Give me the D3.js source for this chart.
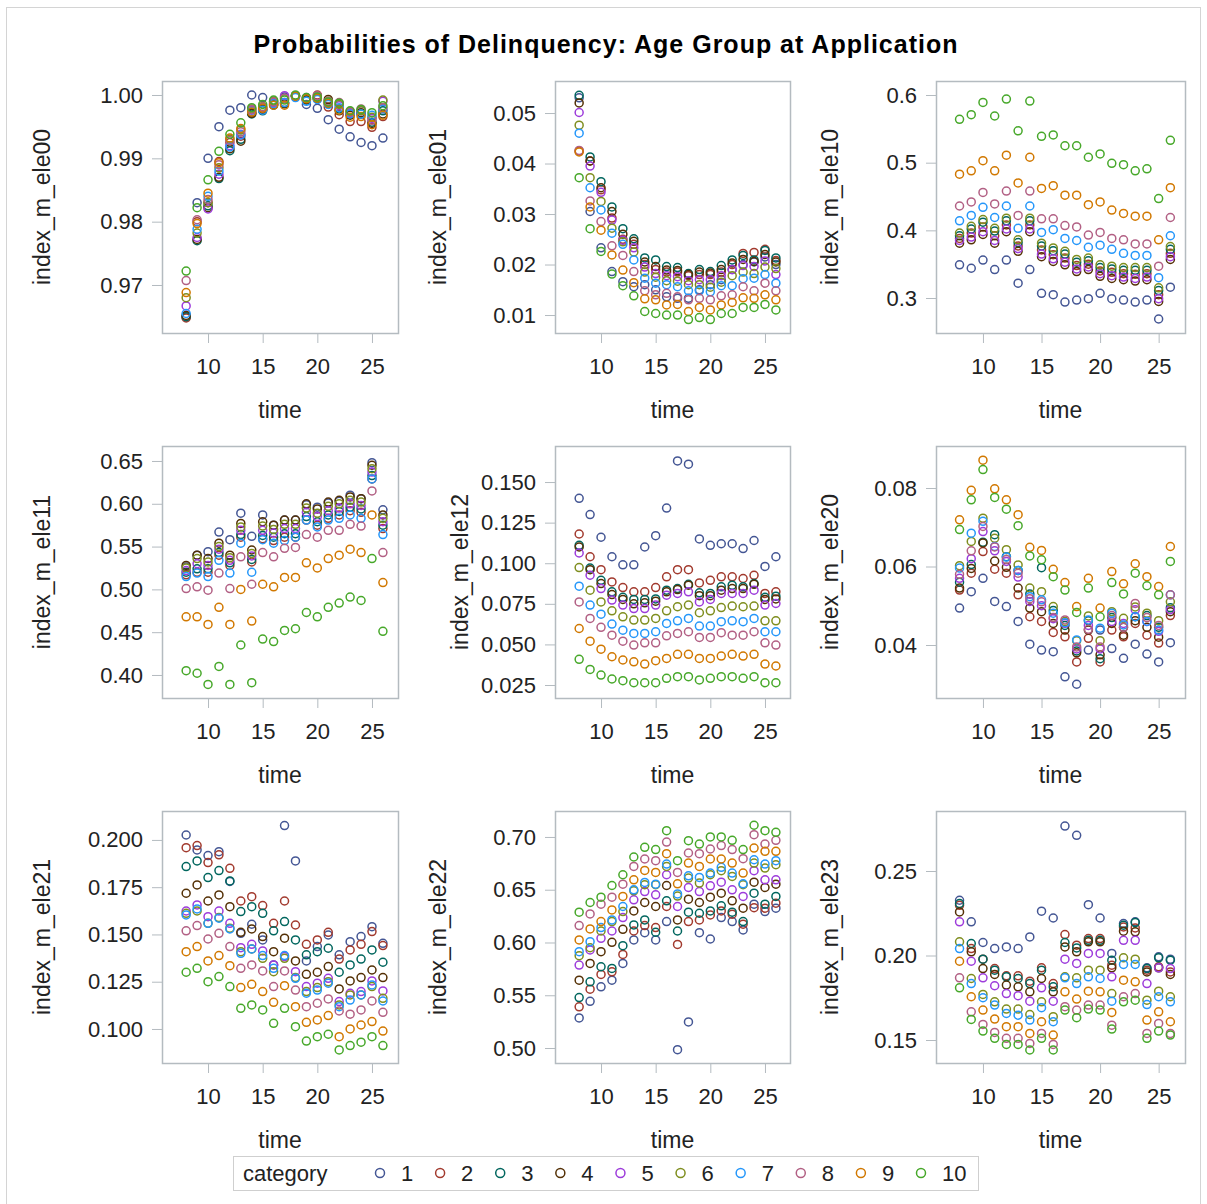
<!DOCTYPE html>
<html>
<head>
<meta charset="utf-8">
<script src="https://cdn.jsdelivr.net/npm/d3@7"></script>
<style>
  body { margin: 0; background: #fff; }
  text { font-family: "Liberation Sans", Arial, sans-serif; fill: #222; }
</style>
</head>
<body>
<svg id="chart" width="1207" height="1204"></svg>
<script>
// time points and categories
var times = [8, 9, 10, 11, 12, 13, 14, 15, 16, 17, 18, 19, 20, 21, 22, 23, 24, 25, 26];
var categories = ["1", "2", "3", "4", "5", "6", "7", "8", "9", "10"];
var colors = ["#445694", "#A23A2E", "#01665E", "#543005", "#9D3CDB",
              "#7F8E1F", "#2597FA", "#B26084", "#D17800", "#47A82A"];

// one row per category, one value per time point
var ele00 = [
  [0.9650,0.9830,0.9900,0.9950,0.9976,0.9980,1.0000,0.9996,0.9990,0.9997,0.9998,0.9985,0.9979,0.9961,0.9946,0.9934,0.9925,0.9920,0.9932],
  [0.9648,0.9800,0.9830,0.9895,0.9925,0.9935,0.9972,0.9978,0.9986,0.9988,0.9999,0.9993,1.0000,0.9981,0.9969,0.9958,0.9958,0.9949,0.9966],
  [0.9650,0.9770,0.9825,0.9868,0.9912,0.9930,0.9970,0.9975,0.9984,0.9986,0.9998,0.9992,0.9994,0.9986,0.9978,0.9970,0.9970,0.9957,0.9975],
  [0.9652,0.9772,0.9822,0.9870,0.9915,0.9927,0.9971,0.9977,0.9985,0.9987,0.9999,0.9993,0.9995,0.9993,0.9975,0.9968,0.9972,0.9955,0.9970],
  [0.9667,0.9775,0.9820,0.9875,0.9920,0.9938,0.9976,0.9980,0.9988,0.9999,0.9999,0.9996,0.9997,0.9988,0.9983,0.9972,0.9975,0.9963,0.9990],
  [0.9680,0.9782,0.9830,0.9885,0.9930,0.9945,0.9978,0.9982,0.9990,0.9994,0.9999,0.9995,0.9996,0.9990,0.9985,0.9974,0.9975,0.9965,0.9992],
  [0.9655,0.9788,0.9840,0.9880,0.9918,0.9937,0.9974,0.9976,0.9986,0.9988,0.9996,0.9990,0.9993,0.9985,0.9980,0.9970,0.9970,0.9968,0.9978],
  [0.9707,0.9803,0.9835,0.9890,0.9928,0.9942,0.9977,0.9981,0.9989,0.9995,0.9999,0.9995,0.9999,0.9990,0.9988,0.9973,0.9978,0.9960,0.9980],
  [0.9688,0.9797,0.9845,0.9893,0.9932,0.9947,0.9973,0.9979,0.9984,0.9984,0.9998,0.9994,0.9995,0.9987,0.9976,0.9965,0.9966,0.9953,0.9968],
  [0.9722,0.9822,0.9866,0.9911,0.9938,0.9956,0.9980,0.9985,0.9992,0.9992,1.0000,0.9996,0.9997,0.9989,0.9987,0.9975,0.9977,0.9972,0.9983]
];
var ele01 = [
  [0.0530,0.0305,0.0233,0.0186,0.0166,0.0156,0.0160,0.0150,0.0136,0.0133,0.0133,0.0150,0.0160,0.0170,0.0190,0.0200,0.0205,0.0215,0.0200],
  [0.0425,0.0405,0.0348,0.0292,0.0250,0.0240,0.0200,0.0190,0.0185,0.0185,0.0178,0.0180,0.0180,0.0185,0.0200,0.0222,0.0224,0.0230,0.0208],
  [0.0535,0.0413,0.0364,0.0314,0.0271,0.0251,0.0213,0.0209,0.0196,0.0194,0.0182,0.0190,0.0186,0.0198,0.0209,0.0218,0.0209,0.0228,0.0213],
  [0.0520,0.0405,0.0352,0.0305,0.0260,0.0246,0.0205,0.0196,0.0189,0.0188,0.0180,0.0185,0.0183,0.0190,0.0203,0.0210,0.0206,0.0220,0.0205],
  [0.0501,0.0395,0.0343,0.0288,0.0248,0.0233,0.0195,0.0182,0.0178,0.0176,0.0168,0.0170,0.0170,0.0178,0.0190,0.0198,0.0196,0.0207,0.0180],
  [0.0476,0.0372,0.0325,0.0272,0.0245,0.0225,0.0185,0.0175,0.0168,0.0167,0.0160,0.0160,0.0155,0.0165,0.0178,0.0185,0.0182,0.0195,0.0192],
  [0.0460,0.0352,0.0308,0.0262,0.0240,0.0209,0.0173,0.0163,0.0160,0.0156,0.0148,0.0148,0.0146,0.0158,0.0158,0.0172,0.0173,0.0180,0.0163],
  [0.0426,0.0326,0.0285,0.0237,0.0218,0.0186,0.0148,0.0140,0.0143,0.0136,0.0130,0.0133,0.0130,0.0138,0.0140,0.0156,0.0148,0.0163,0.0148],
  [0.0423,0.0314,0.0268,0.0219,0.0189,0.0164,0.0132,0.0130,0.0120,0.0121,0.0107,0.0115,0.0110,0.0120,0.0125,0.0134,0.0133,0.0140,0.0130],
  [0.0372,0.0271,0.0226,0.0181,0.0158,0.0138,0.0107,0.0103,0.0100,0.0100,0.0091,0.0095,0.0091,0.0103,0.0103,0.0115,0.0115,0.0121,0.0110]
];
var ele10 = [
  [0.349,0.344,0.356,0.342,0.356,0.322,0.342,0.307,0.305,0.294,0.297,0.299,0.307,0.299,0.297,0.294,0.297,0.269,0.316],
  [0.388,0.396,0.405,0.392,0.408,0.377,0.408,0.371,0.364,0.359,0.348,0.350,0.340,0.338,0.336,0.335,0.336,0.305,0.366],
  [0.392,0.402,0.412,0.399,0.414,0.382,0.414,0.377,0.370,0.365,0.353,0.355,0.345,0.343,0.341,0.341,0.341,0.311,0.372],
  [0.381,0.386,0.394,0.381,0.398,0.369,0.398,0.361,0.354,0.349,0.339,0.342,0.332,0.329,0.327,0.325,0.327,0.295,0.357],
  [0.385,0.390,0.398,0.385,0.402,0.373,0.402,0.365,0.358,0.353,0.343,0.346,0.336,0.333,0.331,0.329,0.331,0.299,0.361],
  [0.396,0.406,0.416,0.403,0.418,0.386,0.418,0.381,0.374,0.369,0.357,0.359,0.349,0.347,0.345,0.345,0.345,0.315,0.376],
  [0.414,0.422,0.434,0.419,0.436,0.403,0.436,0.397,0.401,0.388,0.385,0.375,0.378,0.372,0.366,0.363,0.363,0.330,0.392],
  [0.436,0.442,0.456,0.439,0.458,0.422,0.458,0.417,0.417,0.407,0.405,0.393,0.397,0.388,0.386,0.380,0.380,0.347,0.419],
  [0.483,0.488,0.503,0.488,0.511,0.470,0.508,0.462,0.466,0.452,0.452,0.438,0.442,0.430,0.425,0.421,0.421,0.386,0.463],
  [0.564,0.571,0.589,0.569,0.594,0.547,0.591,0.539,0.541,0.525,0.525,0.508,0.513,0.499,0.497,0.488,0.491,0.447,0.533]
];
var ele11 = [
  [0.526,0.540,0.544,0.567,0.558,0.589,0.562,0.587,0.575,0.581,0.581,0.599,0.596,0.601,0.603,0.610,0.606,0.648,0.593],
  [0.517,0.520,0.520,0.540,0.528,0.561,0.532,0.559,0.557,0.561,0.561,0.581,0.575,0.583,0.587,0.592,0.590,0.629,0.571],
  [0.520,0.524,0.524,0.543,0.531,0.564,0.535,0.563,0.561,0.565,0.565,0.585,0.579,0.587,0.591,0.596,0.594,0.633,0.575],
  [0.528,0.540,0.536,0.554,0.540,0.577,0.546,0.579,0.575,0.581,0.581,0.600,0.594,0.602,0.604,0.608,0.606,0.645,0.587],
  [0.522,0.530,0.528,0.547,0.534,0.569,0.539,0.569,0.566,0.571,0.571,0.590,0.585,0.592,0.595,0.600,0.598,0.637,0.579],
  [0.525,0.536,0.532,0.550,0.537,0.573,0.542,0.574,0.570,0.576,0.576,0.595,0.589,0.597,0.600,0.604,0.602,0.641,0.583],
  [0.515,0.519,0.515,0.534,0.519,0.554,0.520,0.558,0.554,0.557,0.561,0.581,0.573,0.581,0.583,0.587,0.583,0.629,0.564],
  [0.501,0.503,0.499,0.519,0.501,0.538,0.506,0.543,0.538,0.548,0.549,0.564,0.561,0.569,0.569,0.576,0.574,0.615,0.543],
  [0.468,0.468,0.459,0.479,0.459,0.500,0.463,0.506,0.503,0.514,0.514,0.531,0.525,0.536,0.540,0.547,0.543,0.587,0.508],
  [0.405,0.402,0.389,0.410,0.389,0.435,0.391,0.442,0.439,0.452,0.454,0.473,0.468,0.479,0.484,0.491,0.487,0.536,0.451]
];
var ele12 = [
  [0.140,0.130,0.116,0.104,0.099,0.099,0.110,0.117,0.134,0.163,0.161,0.115,0.111,0.112,0.112,0.109,0.114,0.098,0.104],
  [0.118,0.104,0.096,0.0885,0.085,0.0824,0.0824,0.085,0.0916,0.096,0.096,0.0879,0.0895,0.0916,0.0916,0.0906,0.0926,0.0814,0.0824],
  [0.111,0.097,0.0895,0.0824,0.079,0.0777,0.0777,0.078,0.0834,0.0844,0.087,0.0818,0.0814,0.0855,0.0865,0.0855,0.0875,0.079,0.0797],
  [0.110,0.096,0.0875,0.0807,0.0777,0.075,0.0756,0.0766,0.0824,0.0838,0.0865,0.080,0.080,0.0834,0.0844,0.0844,0.087,0.0777,0.078],
  [0.1063,0.0926,0.0844,0.0773,0.0742,0.0721,0.0721,0.0742,0.0803,0.0814,0.0824,0.0762,0.0777,0.0814,0.0814,0.0814,0.0834,0.0742,0.0752],
  [0.0973,0.0834,0.0762,0.0707,0.067,0.065,0.065,0.066,0.0707,0.0732,0.0742,0.0695,0.0707,0.0727,0.0736,0.0732,0.0736,0.0645,0.0645],
  [0.0859,0.0742,0.0686,0.0625,0.0588,0.0568,0.0568,0.0578,0.0629,0.0645,0.066,0.0613,0.0613,0.064,0.0645,0.064,0.066,0.0578,0.0578],
  [0.0762,0.066,0.0605,0.0557,0.052,0.0496,0.051,0.051,0.0553,0.0568,0.0578,0.0543,0.0543,0.0572,0.0557,0.0557,0.0578,0.051,0.0496],
  [0.0598,0.052,0.0471,0.0424,0.0404,0.0393,0.0379,0.040,0.0414,0.0439,0.0439,0.0414,0.0414,0.0428,0.0439,0.0428,0.0439,0.0379,0.0367],
  [0.0408,0.0346,0.0311,0.0287,0.0277,0.0264,0.0264,0.0264,0.0291,0.0301,0.0301,0.0281,0.0291,0.0301,0.0301,0.0291,0.0301,0.0264,0.0264]
];
var ele20 = [
  [0.0494,0.0536,0.0570,0.0511,0.0498,0.0460,0.0402,0.0387,0.0383,0.0319,0.0300,0.0387,0.0438,0.0391,0.0366,0.0402,0.0377,0.0357,0.0406],
  [0.0540,0.0583,0.0638,0.0593,0.0583,0.0528,0.0472,0.0460,0.0432,0.0421,0.0357,0.0417,0.0357,0.0438,0.0421,0.0455,0.0425,0.0405,0.0475],
  [0.0560,0.0605,0.0662,0.0681,0.0625,0.0590,0.0530,0.0597,0.0488,0.0450,0.0385,0.0462,0.0365,0.0470,0.0445,0.0472,0.0475,0.0445,0.0495],
  [0.0545,0.0595,0.0660,0.0614,0.0598,0.0545,0.0494,0.0485,0.0455,0.0438,0.0380,0.0438,0.0375,0.0455,0.0425,0.0462,0.0445,0.0420,0.0485],
  [0.0570,0.0620,0.0689,0.0640,0.0613,0.0573,0.0511,0.0500,0.0467,0.0455,0.0390,0.0450,0.0390,0.0460,0.0455,0.0490,0.0460,0.0435,0.0490],
  [0.0602,0.0664,0.0723,0.0672,0.0643,0.0604,0.0545,0.0536,0.0498,0.0460,0.0411,0.0474,0.0411,0.0485,0.0468,0.0497,0.0481,0.0462,0.0510],
  [0.0596,0.0685,0.0715,0.0651,0.0624,0.0590,0.0523,0.0515,0.0481,0.0457,0.0413,0.0464,0.0443,0.0481,0.0451,0.0472,0.0460,0.0438,0.0528],
  [0.0580,0.0640,0.0702,0.0650,0.0618,0.0583,0.0518,0.0510,0.0470,0.0464,0.0395,0.0440,0.0395,0.0475,0.0445,0.0506,0.0470,0.0450,0.0528],
  [0.0719,0.0794,0.0871,0.0798,0.0770,0.0732,0.0649,0.0641,0.0593,0.0559,0.0498,0.0570,0.0494,0.0587,0.0556,0.0607,0.0574,0.0549,0.0651],
  [0.0694,0.0770,0.0847,0.0776,0.0746,0.0704,0.0627,0.0617,0.0574,0.0540,0.0483,0.0545,0.0472,0.0559,0.0530,0.0583,0.0551,0.0528,0.0613]
];
var ele21 = [
  [0.2026,0.1947,0.1917,0.1938,0.1780,0.1506,0.1554,0.1471,0.1339,0.2076,0.1889,0.1360,0.1436,0.1497,0.1392,0.1462,0.1489,0.1541,0.1453],
  [0.1959,0.1970,0.1880,0.1921,0.1850,0.1677,0.1700,0.1653,0.1559,0.1677,0.1550,0.1448,0.1471,0.1511,0.1370,0.1418,0.1448,0.1515,0.1441],
  [0.1859,0.1889,0.1801,0.1838,0.1783,0.1621,0.1647,0.1612,0.1519,0.1568,0.1471,0.1392,0.1409,0.1427,0.1300,0.1339,0.1370,0.1418,0.1353],
  [0.1718,0.1762,0.1677,0.1709,0.1647,0.1511,0.1529,0.1489,0.1409,0.1480,0.1360,0.1289,0.1300,0.1330,0.1212,0.1254,0.1272,0.1312,0.1272],
  [0.1624,0.1656,0.1594,0.1624,0.1559,0.1430,0.1448,0.1413,0.1339,0.1383,0.1303,0.1224,0.1242,0.1268,0.1145,0.1189,0.1198,0.1254,0.1201],
  [0.1612,0.1624,0.1559,0.1589,0.1533,0.1409,0.1423,0.1374,0.1303,0.1374,0.1272,0.1198,0.1219,0.1250,0.1127,0.1180,0.1180,0.1224,0.1162],
  [0.1603,0.1635,0.1559,0.1586,0.1529,0.1400,0.1423,0.1388,0.1321,0.1388,0.1268,0.1189,0.1206,0.1242,0.1118,0.1153,0.1180,0.1233,0.1148],
  [0.1519,0.1547,0.1476,0.1506,0.1436,0.1321,0.1339,0.1307,0.1224,0.1307,0.1206,0.1118,0.1136,0.1159,0.1095,0.1078,0.1101,0.1148,0.1088],
  [0.1409,0.1436,0.1360,0.1388,0.1335,0.1219,0.1236,0.1198,0.1141,0.1229,0.1118,0.1035,0.1048,0.1071,0.0959,0.1000,0.1021,0.1039,0.0989],
  [0.1300,0.1321,0.1250,0.1277,0.1224,0.1109,0.1127,0.1101,0.1030,0.1109,0.1012,0.0936,0.0959,0.0972,0.0889,0.0912,0.0930,0.0959,0.0912]
];
var ele22 = [
  [0.5285,0.5443,0.5580,0.5643,0.5802,0.6024,0.6093,0.6024,0.6198,0.4984,0.5247,0.6093,0.6033,0.6236,0.6198,0.6119,0.6363,0.6293,0.6325],
  [0.5390,0.5558,0.5697,0.5722,0.5887,0.6109,0.6160,0.6141,0.6341,0.5982,0.6198,0.6214,0.6261,0.6299,0.6268,0.6173,0.6330,0.6325,0.6373],
  [0.5478,0.5627,0.5770,0.5754,0.5970,0.6166,0.6214,0.6097,0.6395,0.6109,0.6287,0.6277,0.6299,0.6347,0.6287,0.6198,0.6467,0.6363,0.6436],
  [0.5643,0.5802,0.5913,0.6002,0.6125,0.6299,0.6379,0.6341,0.6540,0.6214,0.6410,0.6379,0.6429,0.6467,0.6395,0.6325,0.6572,0.6521,0.6553],
  [0.5786,0.5929,0.6039,0.6109,0.6236,0.6404,0.6483,0.6452,0.6642,0.6341,0.6521,0.6483,0.6537,0.6572,0.6499,0.6436,0.6680,0.6594,0.6594],
  [0.5875,0.5950,0.6109,0.6198,0.6293,0.6490,0.6547,0.6547,0.6721,0.6440,0.6610,0.6563,0.6642,0.6680,0.6626,0.6547,0.6753,0.6705,0.6737],
  [0.5913,0.6008,0.6141,0.6214,0.6341,0.6499,0.6569,0.6553,0.6743,0.6460,0.6632,0.6616,0.6658,0.6712,0.6658,0.6556,0.6784,0.6743,0.6775],
  [0.6160,0.6271,0.6363,0.6429,0.6553,0.6721,0.6791,0.6775,0.6952,0.6664,0.6848,0.6842,0.6886,0.6918,0.6880,0.6794,0.7022,0.6933,0.6968],
  [0.6024,0.6128,0.6198,0.6309,0.6436,0.6594,0.6683,0.6664,0.6842,0.6556,0.6753,0.6721,0.6791,0.6791,0.6753,0.6658,0.6895,0.6864,0.6864],
  [0.6287,0.6379,0.6429,0.6540,0.6642,0.6810,0.6902,0.6880,0.7060,0.6775,0.6965,0.6933,0.7000,0.7000,0.6968,0.6880,0.7111,0.7060,0.7044]
];
var ele23 = [
  [0.2327,0.2199,0.2077,0.2041,0.2051,0.2041,0.2110,0.2262,0.2222,0.2766,0.2711,0.2301,0.2222,0.2012,0.2189,0.2199,0.1927,0.1992,0.1978],
  [0.2297,0.2041,0.1978,0.1923,0.1880,0.1880,0.1848,0.1927,0.1834,0.2124,0.2061,0.2100,0.2100,0.1943,0.2169,0.2163,0.1913,0.1933,0.1903],
  [0.2307,0.2071,0.1978,0.1913,0.1874,0.1864,0.1834,0.1913,0.1815,0.2077,0.2045,0.2090,0.2090,0.1972,0.2179,0.2195,0.1923,0.1986,0.1972],
  [0.2258,0.2022,0.1923,0.1888,0.1825,0.1815,0.1785,0.1864,0.1785,0.2051,0.2022,0.2081,0.2081,0.1927,0.2144,0.2140,0.1903,0.1927,0.1888],
  [0.2199,0.1966,0.1868,0.1821,0.1775,0.1762,0.1730,0.1809,0.1730,0.1978,0.1953,0.2012,0.2012,0.1874,0.2090,0.2090,0.1834,0.1927,0.1923],
  [0.2081,0.1864,0.1770,0.1726,0.1683,0.1683,0.1651,0.1726,0.1638,0.1874,0.1868,0.1913,0.1913,0.1775,0.1986,0.1978,0.1736,0.1789,0.1756],
  [0.2041,0.1834,0.1750,0.1707,0.1657,0.1647,0.1618,0.1691,0.1608,0.1868,0.1834,0.1874,0.1864,0.1730,0.1947,0.1947,0.1710,0.1756,0.1726],
  [0.1868,0.1667,0.1592,0.1545,0.1510,0.1510,0.1480,0.1539,0.1474,0.1697,0.1677,0.1707,0.1707,0.1588,0.1756,0.1775,0.1539,0.1598,0.1539],
  [0.1966,0.1756,0.1677,0.1624,0.1579,0.1579,0.1539,0.1608,0.1529,0.1785,0.1742,0.1789,0.1785,0.1663,0.1854,0.1844,0.1618,0.1667,0.1608],
  [0.1809,0.1622,0.1553,0.1510,0.1474,0.1474,0.1441,0.1510,0.1441,0.1677,0.1632,0.1683,0.1677,0.1565,0.1726,0.1736,0.1510,0.1553,0.1529]
];

var xTicks = [10, 15, 20, 25];

// panel list: variable, data, y range shown, y ticks, tick format
var panels = [
  {name: "index_m_ele00", data: ele00, yDomain: [0.96242, 1.00221], yTicks: [0.97, 0.98, 0.99, 1.00], fmt: ".2f"},
  {name: "index_m_ele01", data: ele01, yDomain: [0.00644, 0.05634], yTicks: [0.01, 0.02, 0.03, 0.04, 0.05], fmt: ".2f"},
  {name: "index_m_ele10", data: ele10, yDomain: [0.2483, 0.6207], yTicks: [0.3, 0.4, 0.5, 0.6], fmt: ".1f"},
  {name: "index_m_ele11", data: ele11, yDomain: [0.3731, 0.6675], yTicks: [0.40, 0.45, 0.50, 0.55, 0.60, 0.65], fmt: ".2f"},
  {name: "index_m_ele12", data: ele12, yDomain: [0.0170, 0.1722], yTicks: [0.025, 0.050, 0.075, 0.100, 0.125, 0.150], fmt: ".3f"},
  {name: "index_m_ele20", data: ele20, yDomain: [0.0265, 0.0907], yTicks: [0.04, 0.06, 0.08], fmt: ".2f"},
  {name: "index_m_ele21", data: ele21, yDomain: [0.0820, 0.2153], yTicks: [0.100, 0.125, 0.150, 0.175, 0.200], fmt: ".3f"},
  {name: "index_m_ele22", data: ele22, yDomain: [0.4858, 0.7246], yTicks: [0.50, 0.55, 0.60, 0.65, 0.70], fmt: ".2f"},
  {name: "index_m_ele23", data: ele23, yDomain: [0.1364, 0.2855], yTicks: [0.15, 0.20, 0.25], fmt: ".2f"}
];

// layout of the 3x3 lattice
var cols = [
  {x0: 162, x1: 398, xDomain: [5.79, 27.38]},
  {x0: 555, x1: 790, xDomain: [5.79, 27.29]},
  {x0: 936, x1: 1185, xDomain: [5.99, 27.25]}
];
var rows = [{y0: 81, y1: 333}, {y0: 446, y1: 698}, {y0: 811, y1: 1063}];
var yLabelX = [50, 446, 838, 50, 468, 838, 50, 446, 838];

var frameColor = "#b4bbc0";
var svg = d3.select("#chart");

// outer border
svg.append("rect")
    .attr("x", 6.5).attr("y", 7.5)
    .attr("width", 1194).attr("height", 1200)
    .attr("fill", "none")
    .attr("stroke", "#d4d4d4");

// title
svg.append("text")
    .attr("x", 606).attr("y", 53)
    .attr("text-anchor", "middle")
    .style("font-size", "25px")
    .style("letter-spacing", "1px")
    .style("font-weight", "bold")
    .style("fill", "#000")
    .text("Probabilities of Delinquency: Age Group at Application");

panels.forEach(function(p, i) {
  var col = cols[i % 3], row = rows[Math.floor(i / 3)];

  var x = d3.scaleLinear().domain(col.xDomain).range([col.x0, col.x1]);
  var y = d3.scaleLinear().domain(p.yDomain).range([row.y1, row.y0]);

  var g = svg.append("g");

  // x axis
  var gx = g.append("g")
      .attr("transform", "translate(0," + row.y1 + ")")
      .call(d3.axisBottom(x).tickValues(xTicks).tickSize(10).tickPadding(15));

  // y axis
  var gy = g.append("g")
      .attr("transform", "translate(" + col.x0 + ",0)")
      .call(d3.axisLeft(y).tickValues(p.yTicks).tickFormat(d3.format(p.fmt)).tickSize(10).tickPadding(9));

  [gx, gy].forEach(function(ax) {
    ax.select(".domain").remove();
    ax.selectAll("line").attr("stroke", frameColor);
    ax.selectAll("text").style("font-size", "22px").style("fill", "#222");
  });

  // plot frame
  g.append("rect")
      .attr("x", col.x0 + 0.5).attr("y", row.y0 + 0.5)
      .attr("width", col.x1 - col.x0).attr("height", row.y1 - row.y0)
      .attr("fill", "none")
      .attr("stroke", frameColor)
      .attr("stroke-width", 1.5);

  // axis labels
  g.append("text")
      .attr("x", (col.x0 + col.x1) / 2).attr("y", row.y1 + 85)
      .attr("text-anchor", "middle")
      .style("font-size", "23px")
      .text("time");

  g.append("text")
      .attr("transform", "translate(" + yLabelX[i] + "," + (row.y0 + row.y1) / 2 + ") rotate(-90)")
      .attr("text-anchor", "middle")
      .style("font-size", "23px")
      .text(p.name);

  // markers, one group per category
  p.data.forEach(function(vals, ci) {
    g.append("g").selectAll("circle")
        .data(vals)
        .enter()
        .append("circle")
        .attr("cx", function(d, k) { return x(times[k]); })
        .attr("cy", function(d) { return y(d); })
        .attr("r", 4)
        .attr("fill", "none")
        .attr("stroke", colors[ci])
        .attr("stroke-width", 1.5);
  });
});

// legend
var legend = svg.append("g");
legend.append("rect")
    .attr("x", 233.5).attr("y", 1156.5)
    .attr("width", 745).attr("height", 34)
    .attr("fill", "none")
    .attr("stroke", "#cfcfcf");

legend.append("text")
    .attr("x", 243).attr("y", 1181)
    .style("font-size", "22px")
    .text("category");

var legendX = d3.scalePoint().domain(categories).range([380, 921]);

var items = legend.selectAll(".item")
    .data(categories)
    .enter()
    .append("g")
    .attr("class", "item")
    .attr("transform", function(d) { return "translate(" + legendX(d) + ",1173)"; });

items.append("circle")
    .attr("r", 4.5)
    .attr("fill", "none")
    .attr("stroke", function(d, i) { return colors[i]; })
    .attr("stroke-width", 1.5);

items.append("text")
    .attr("x", 21).attr("y", 8)
    .style("font-size", "22px")
    .text(function(d) { return d; });
</script>
</body>
</html>
